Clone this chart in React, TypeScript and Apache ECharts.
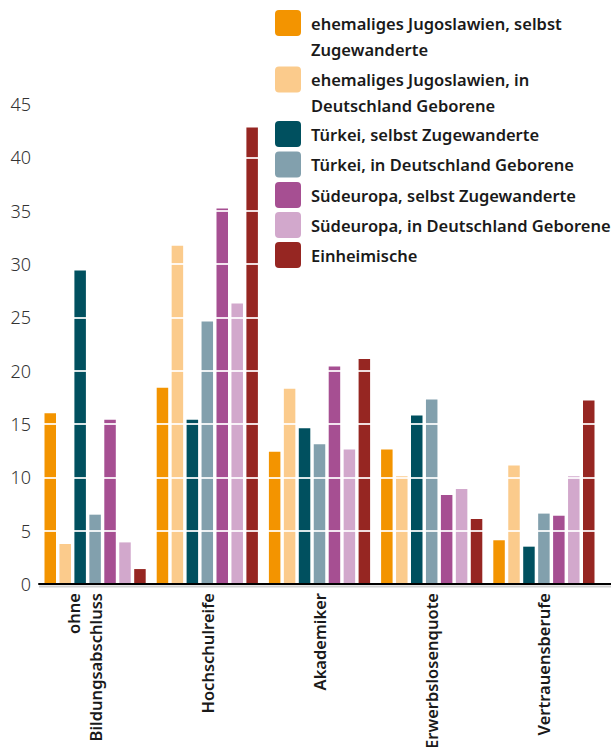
import React, { useEffect, useRef } from "react";
import * as echarts from "echarts";

const categories = ["ohne Bildungsabschluss", "Hochschulreife", "Akademiker", "Erwerbslosenquote", "Vertrauensberufe"];
const seriesNames = [
  "ehemaliges Jugoslawien, selbst Zugewanderte",
  "ehemaliges Jugoslawien, in Deutschland Geborene",
  "Türkei, selbst Zugewanderte",
  "Türkei, in Deutschland Geborene",
  "Südeuropa, selbst Zugewanderte",
  "Südeuropa, in Deutschland Geborene",
  "Einheimische",
];
const legendLabels = [
  "ehemaliges Jugoslawien, selbst\nZugewanderte",
  "ehemaliges Jugoslawien, in\nDeutschland Geborene",
  "Türkei, selbst Zugewanderte",
  "Türkei, in Deutschland Geborene",
  "Südeuropa, selbst Zugewanderte",
  "Südeuropa, in Deutschland Geborene",
  "Einheimische",
];
const jugoSelbst = [16.0, 18.4, 12.4, 12.6, 4.1];
const jugoGeboren = [3.75, 31.7, 18.3, 10.1, 11.1];
const tuerkeiSelbst = [29.4, 15.4, 14.6, 15.8, 3.5];
const tuerkeiGeboren = [6.5, 24.6, 13.1, 17.3, 6.6];
const suedSelbst = [15.4, 35.2, 20.4, 8.35, 6.4];
const suedGeboren = [3.9, 26.3, 12.6, 8.9, 10.1];
const einheimische = [1.4, 42.8, 21.1, 6.1, 17.2];
const allValues = [jugoSelbst, jugoGeboren, tuerkeiSelbst, tuerkeiGeboren, suedSelbst, suedGeboren, einheimische];
const colors = ["#F39400", "#FBCB8C", "#00505F", "#82A0AD", "#A64F92", "#D2A8CC", "#962622"];

export default function App() {
  const ref = useRef<HTMLDivElement>(null);
  useEffect(() => {
    document.body.style.margin = "0";
    const chart = echarts.init(ref.current!, null, { renderer: "svg" });
    const legendCenters = [23, 79.5, 134, 164.5, 195, 225, 255];
    const legendGraphics: any[] = [];
    legendLabels.forEach((lab, i) => {
      const cy = legendCenters[i];
      legendGraphics.push({
        type: "rect",
        z: 100,
        shape: { x: 275, y: cy - 13, width: 26, height: 26, r: 4 },
        style: { fill: colors[i] },
      });
      legendGraphics.push({
        type: "text",
        z: 100,
        x: 311,
        y: cy - 13,
        style: {
          text: lab,
          fill: "#1a1a1a",
          font: "600 16.5px 'Noto Sans', sans-serif",
          lineHeight: 26,
          verticalAlign: "top",
          align: "left",
        },
      });
    });
    chart.setOption({
      animation: false,
      grid: { left: 39, right: 11, top: 104, bottom: 163, containLabel: false, outerBoundsMode: "none" },
      xAxis: {
        type: "category",
        data: categories,
        axisLine: { show: true, lineStyle: { color: "#000", width: 2 } },
        axisTick: { show: false },
        axisLabel: {
          rotate: 90,
          interval: 0,
          margin: 9,
          color: "#1a1a1a",
          fontFamily: "'Noto Sans', sans-serif",
          fontWeight: 600,
          fontSize: 16.5,
          lineHeight: 22,
          formatter: (v: string) => (v === "ohne Bildungsabschluss" ? "ohne\nBildungsabschluss\n " : v),
        },
      },
      yAxis: {
        type: "value",
        min: 0,
        max: 45,
        interval: 5,
        z: 5,
        axisLine: { show: false },
        axisTick: { show: false },
        axisLabel: {
          margin: 8,
          color: "#333",
          fontFamily: "'Noto Sans', sans-serif",
          fontWeight: 300,
          fontSize: 18,
        },
        splitLine: { show: true, lineStyle: { color: "rgba(255,255,255,0.85)", width: 2 } },
      },
      series: seriesNames.map((name, i) => ({
        name,
        type: "bar",
        data: allValues[i],
        barWidth: 11.5,
        barGap: "30%",
        itemStyle: { color: colors[i] },
      })),
      graphic: [
        { type: "line", z: 100, shape: { x1: 39, y1: 584, x2: 611, y2: 584 }, style: { stroke: "#000", lineWidth: 2 } },
        { type: "line", z: 100, shape: { x1: 39, y1: 586.5, x2: 611, y2: 586.5 }, style: { stroke: "#cfcfcf", lineWidth: 2 } },
        ...legendGraphics,
      ],
    });
    return () => chart.dispose();
  }, []);
  return <div ref={ref} style={{ width: 611, height: 747, position: "absolute", left: 0, top: 0 }} />;
}
